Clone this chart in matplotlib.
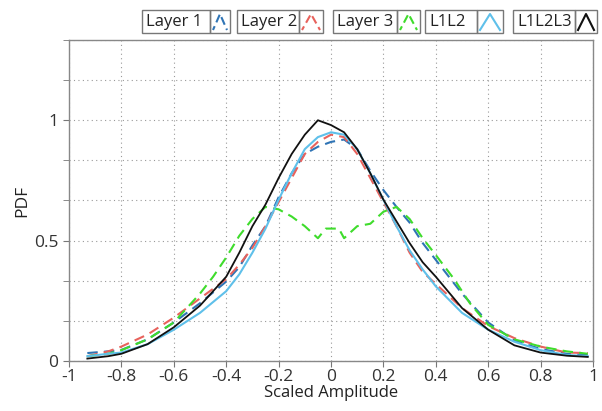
import matplotlib
matplotlib.use("Agg")
import matplotlib.pyplot as plt
import matplotlib.patches as mpatches
from matplotlib.lines import Line2D
from matplotlib.ticker import MultipleLocator, FixedLocator
import numpy as np

plt.rcParams['font.family'] = ['Open Sans', 'DejaVu Sans']

x_common = [-0.93, -0.85, -0.8, -0.7, -0.6, -0.5, -0.4, -0.35, -0.3, -0.25, -0.2, -0.15,
            -0.1, -0.05, 0, 0.05, 0.1, 0.15, 0.2, 0.25, 0.3, 0.35, 0.4, 0.5, 0.6, 0.7,
            0.8, 0.9, 0.98]
layer1 = [0.033, 0.04, 0.046, 0.09, 0.16, 0.24, 0.33, 0.39, 0.48, 0.56, 0.68, 0.78,
          0.86, 0.89, 0.91, 0.92, 0.88, 0.79, 0.71, 0.64, 0.575, 0.49, 0.42, 0.28, 0.16,
          0.085, 0.05, 0.03, 0.025]
layer2 = [0.02, 0.04, 0.06, 0.11, 0.18, 0.26, 0.34, 0.40, 0.47, 0.56, 0.66, 0.76,
          0.86, 0.91, 0.94, 0.93, 0.86, 0.76, 0.66, 0.56, 0.45, 0.37, 0.32, 0.22, 0.145,
          0.095, 0.06, 0.035, 0.033]
l1l2 = [0.02, 0.03, 0.035, 0.07, 0.13, 0.2, 0.29, 0.36, 0.45, 0.55, 0.67, 0.78,
        0.88, 0.93, 0.95, 0.94, 0.88, 0.78, 0.67, 0.56, 0.46, 0.38, 0.31, 0.2, 0.13,
        0.08, 0.045, 0.025, 0.02]
l1l2l3 = [0.01, 0.02, 0.03, 0.07, 0.14, 0.23, 0.35, 0.45, 0.56, 0.65, 0.76, 0.86,
          0.94, 1.0, 0.98, 0.95, 0.88, 0.78, 0.67, 0.58, 0.49, 0.41, 0.35, 0.22, 0.13,
          0.065, 0.035, 0.022, 0.017]

x_layer3 = [-0.93, -0.85, -0.8, -0.7, -0.6, -0.5, -0.45, -0.4, -0.35, -0.3, -0.25, -0.2,
            -0.15, -0.1, -0.05, -0.02, 0.03, 0.05, 0.1, 0.15, 0.2, 0.25, 0.3, 0.35, 0.4,
            0.47, 0.53, 0.6, 0.7, 0.8, 0.9, 0.98]
layer3 = [0.02, 0.03, 0.045, 0.09, 0.16, 0.28, 0.35, 0.43, 0.52, 0.59, 0.64, 0.63,
          0.60, 0.56, 0.51, 0.55, 0.55, 0.51, 0.56, 0.57, 0.62, 0.64, 0.59, 0.51, 0.44,
          0.34, 0.24, 0.15, 0.09, 0.06, 0.04, 0.03]

xtick_vals = [-1, -0.8, -0.6, -0.4, -0.2, 0, 0.2, 0.4, 0.6, 0.8, 1]
xtick_labels = ['-1', '-0.8', '-0.6', '-0.4', '-0.2', '0', '0.2', '0.4', '0.6', '0.8', '1']
ytick_vals = [0, 0.5, 1]
ytick_labels = ['0', '0.5', '1']

c_l1 = '#2f74b5'
c_l2 = '#e8625c'
c_l3 = '#3fdc2c'
c_l12 = '#5fc0ea'
c_l123 = '#111111'
dash = (0, (5, 3))
dash_small = (2, (4, 2))

W, H = 602, 411
fig = plt.figure(figsize=(W / 100, H / 100), dpi=100)
ax = fig.add_axes([69 / W, 1 - 361 / H, (593 - 69) / W, (361 - 40) / H])

ax.plot(x_common, layer1, color=c_l1, lw=1.5, ls=dash)
ax.plot(x_common, layer2, color=c_l2, lw=1.5, ls=dash)
ax.plot(x_layer3, layer3, color=c_l3, lw=1.5, ls=dash)
ax.plot(x_common, l1l2, color=c_l12, lw=1.5)
ax.plot(x_common, l1l2l3, color=c_l123, lw=1.3)

ax.set_xlim(-1, 1)
ax.set_ylim(0, 4 / 3)
ax.set_xticks(xtick_vals)
ax.set_xticklabels(xtick_labels)
ax.yaxis.set_major_locator(FixedLocator(ytick_vals))
ax.set_yticklabels(ytick_labels)
ax.yaxis.set_minor_locator(MultipleLocator(1 / 6))

ax.grid(True, which='both', axis='y', ls=(0, (1, 3)), color='#999999', lw=0.8)
ax.grid(True, which='major', axis='x', ls=(0, (1, 3)), color='#999999', lw=0.8)
ax.tick_params(which='both', direction='out', color='#777777', labelsize=12.5,
               labelcolor='#333333', length=4)
ax.tick_params(axis='x', pad=2)
for s in ax.spines.values():
    s.set_color('#888888')
    s.set_linewidth(1)

ax.set_xlabel('Scaled Amplitude', fontsize=12, labelpad=0, color='#222222')
ax.set_ylabel('PDF', fontsize=12.5, labelpad=3, color='#222222')

# legend boxes along the top
entries = [('Layer 1', c_l1, dash_small, 142, 210, 230),
           ('Layer 2', c_l2, dash_small, 237, 299, 323),
           ('Layer 3', c_l3, dash_small, 333, 397, 420),
           ('L1L2', c_l12, '-', 425, 477, 503),
           ('L1L2L3', c_l123, '-', 513, 575, 597)]
y0, y1 = 10, 33
for label, col, style, a, b, c in entries:
    for left, right in [(a, b), (b, c)]:
        fig.patches.append(mpatches.Rectangle((left / W, 1 - y1 / H), (right - left) / W,
                                              (y1 - y0) / H, transform=fig.transFigure,
                                              fill=False, ec='#777777', lw=1))
    fig.text((a + 4) / W, 1 - (y0 + y1) / 2 / H, label, fontsize=12, va='center',
             ha='left', color='#222222')
    fig.lines.append(Line2D([(b + 3) / W, (b + c) / 2 / W, (c - 3) / W],
                            [1 - 30 / H, 1 - 14 / H, 1 - 30 / H],
                            transform=fig.transFigure, color=col, lw=1.5, ls=style))

fig.savefig('out.png', dpi=100)
